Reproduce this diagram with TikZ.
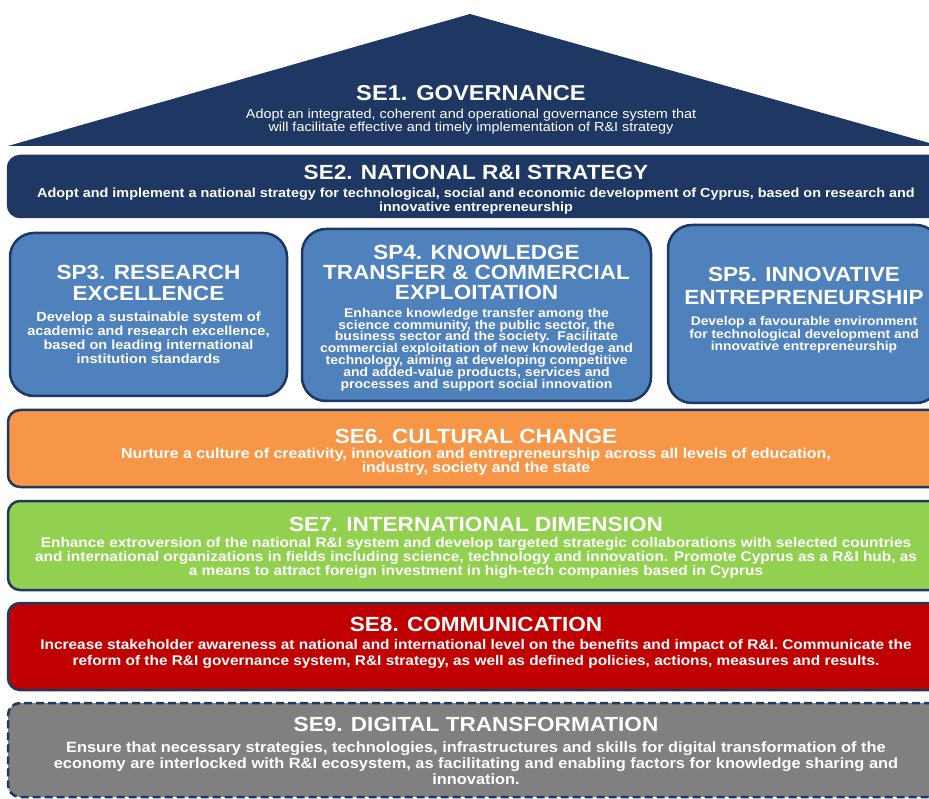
\documentclass[tikz,border=0pt]{standalone}
\usepackage{fontspec}
\setmainfont{Liberation Sans}
\newfontfamily\capsfont[FakeStretch=1.1]{Liberation Sans}
\usetikzlibrary{positioning}

\definecolor{govnavy}{RGB}{31,56,99}
\definecolor{pillarblue}{RGB}{79,129,189}
\definecolor{cultorange}{RGB}{247,150,70}
\definecolor{intgreen}{RGB}{146,208,80}
\definecolor{commred}{RGB}{192,0,0}
\definecolor{digigray}{RGB}{128,128,128}

\newcommand{\txt}[2]{\fontsize{#1}{#2}\selectfont\lineskiplimit=-20pt}

\begin{document}
\begin{tikzpicture}[x=1pt,y=-1pt,
  every node/.style={inner sep=0pt,outer sep=0pt,text=white,align=center},
  band/.style={draw=govnavy,line width=2.5pt,rounded corners=12pt,minimum width=936pt},
  pillar/.style={draw=govnavy,line width=2.5pt,rounded corners=24pt,fill=pillarblue},
  head/.style={font=\capsfont\bfseries\txt{20.5}{21}},
  note/.style 2 args={font=\capsfont\bfseries\txt{#1}{#2}}]

\useasboundingbox (0,0) rectangle (929,799);

% roof
\fill[govnavy] (8,146) -- (470,14) -- (940,146) -- cycle;
\node[head,font=\capsfont\bfseries\txt{21.5}{22}] (se1t) at (471,93) {SE1. GOVERNANCE};
\node[font=\capsfont\txt{13.1}{12.3},below=8.8pt of se1t] (se1b)
  {Adopt an integrated, coherent and operational governance system that\\
   will facilitate effective and timely implementation of R\&I strategy};

% strategy band
\node[band,fill=govnavy,minimum height=61pt] (se2) at (476,186.5) {};
\node[head,below=8.7pt of se2.north] (se2t) {SE2. NATIONAL R\&I STRATEGY};
\node[note={13.1}{14},below=9pt of se2t] (se2b)
  {Adopt and implement a national strategy for technological, social and economic development of Cyprus, based on research and\\
   innovative entrepreneurship};

% pillars
\node[pillar,minimum width=277pt,minimum height=163pt] (sp3) at (148.5,314.5) {};
\node[pillar,minimum width=349pt,minimum height=172pt] (sp4) at (476.5,315) {};
\node[pillar,minimum width=272pt,minimum height=178pt] (sp5) at (804,314) {};

\node[head,below=31.7pt of sp3.north] (sp3t) {SP3. RESEARCH\\EXCELLENCE};
\node[note={13.2}{14},below=11.7pt of sp3t] (sp3b)
  {Develop a sustainable system of\\
   academic and research excellence,\\
   based on leading international\\
   institution standards};

\node[head,font=\capsfont\bfseries\txt{20.5}{20},below=15.7pt of sp4.north] (sp4t)
  {SP4. KNOWLEDGE\\TRANSFER \& COMMERCIAL\\EXPLOITATION};
\node[note={12.7}{11.8},below=8.8pt of sp4t] (sp4b)
  {Enhance knowledge transfer among the\\
   science community, the public sector, the\\
   business sector and the society.\ \ Facilitate\\
   commercial exploitation of new knowledge and\\
   technology, aiming at developing competitive\\
   and added-value products, services and\\
   processes and support social innovation};

\node[head,font=\capsfont\bfseries\txt{20.5}{23},below=41.7pt of sp5.north] (sp5t)
  {SP5. INNOVATIVE\\ENTREPRENEURSHIP};
\node[note={12.6}{12.2},below=12.5pt of sp5t] (sp5b)
  {Develop a favourable environment\\
   for technological development and\\
   innovative entrepreneurship};

% lower bands
\node[band,fill=cultorange,minimum height=77pt] (se6) at (476,448.5) {};
\node[head,below=18.7pt of se6.north] (se6t) {SE6. CULTURAL CHANGE};
\node[note={14.5}{13.5},below=5pt of se6t] (se6b)
  {Nurture a culture of creativity, innovation and entrepreneurship across all levels of education,\\
   industry, society and the state};

\node[band,fill=intgreen,minimum height=89pt] (se7) at (476,545.5) {};
\node[head,below=15.7pt of se7.north] (se7t) {SE7. INTERNATIONAL DIMENSION};
\node[note={14}{14},below=5.8pt of se7t] (se7b)
  {Enhance extroversion of the national R\&I system and develop targeted strategic collaborations with selected countries\\
   and international organizations in fields including science, technology and innovation. Promote Cyprus as a R\&I hub, as\\
   a means to attract foreign investment in high-tech companies based in Cyprus};

\node[band,fill=commred,minimum height=87pt] (se8) at (476,646.5) {};
\node[head,below=13.7pt of se8.north] (se8t) {SE8. COMMUNICATION};
\node[note={14}{16},below=8.3pt of se8t] (se8b)
  {Increase stakeholder awareness at national and international level on the benefits and impact of R\&I. Communicate the\\
   reform of the R\&I governance system, R\&I strategy, as well as defined policies, actions, measures and results.};

\node[band,fill=digigray,dash pattern=on 8pt off 4pt,minimum height=94pt] (se9) at (476,750) {};
\node[head,below=13.7pt of se9.north] (se9t) {SE9. DIGITAL TRANSFORMATION};
\node[note={14.9}{16},below=10.9pt of se9t] (se9b)
  {Ensure that necessary strategies, technologies, infrastructures and skills for digital transformation of the\\
   economy are interlocked with R\&I ecosystem, as facilitating and enabling factors for knowledge sharing and\\
   innovation.};

\end{tikzpicture}
\end{document}
